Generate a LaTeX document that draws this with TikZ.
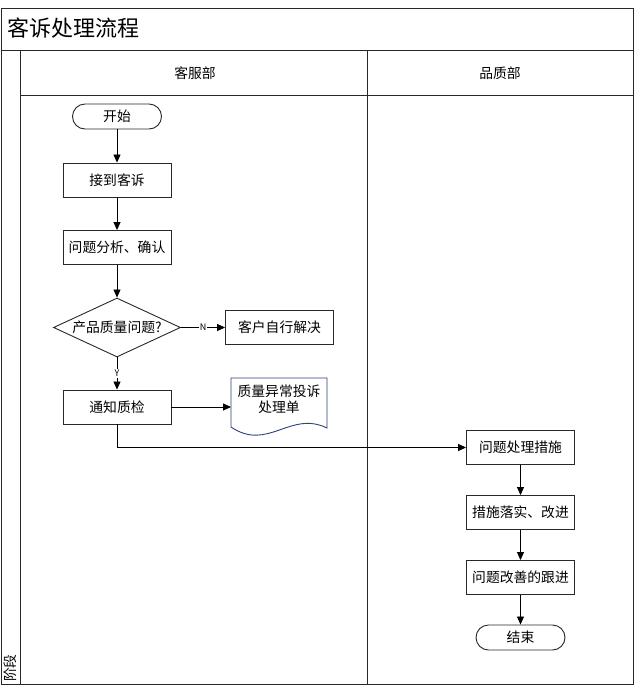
\documentclass[tikz,border=0pt]{standalone}
\usepackage{fontspec}
\setmainfont{Noto Sans CJK SC}
\usetikzlibrary{arrows.meta,shapes.geometric}
\definecolor{frame}{RGB}{40,40,40}
\definecolor{docblue}{RGB}{45,65,125}
\tikzset{
  box/.style={draw=frame,line width=0.9pt,minimum width=108pt,minimum height=34pt,inner sep=1pt,font=\fontsize{13.8}{16}\selectfont,fill=white},
  term/.style={draw=frame,line width=0.9pt,rounded corners=12.5pt,minimum width=89pt,minimum height=25pt,inner sep=1pt,font=\fontsize{13.8}{16}\selectfont,fill=white},
  flow/.style={draw=black,line width=0.8pt,-{Triangle[length=8pt,width=7pt]}},
  lane/.style={draw=frame,line width=0.9pt},
  lbl/.style={font=\fontsize{9}{10}\selectfont,fill=white,inner sep=1pt}
}
\begin{document}
\begin{tikzpicture}[x=1pt,y=-1pt]
\useasboundingbox (0,0) rectangle (642,688);
% frame
\draw[lane] (1,8) rectangle (633,684);
\draw[lane] (1,50) -- (633,50);
\draw[lane] (20,95) -- (633,95);
\draw[lane] (20,50) -- (20,684);
\draw[lane] (367,50) -- (367,684);
\node[anchor=west,font=\fontsize{22}{25}\selectfont,inner sep=0pt] (title) at (7,28) {客诉处理流程};
\node[font=\fontsize{13.8}{16}\selectfont] (kf) at (195,73) {客服部};
\node[font=\fontsize{13.8}{16}\selectfont] (pz) at (500,73) {品质部};
\node[rotate=90,anchor=west,font=\fontsize{13.8}{16}\selectfont,inner sep=0pt] (jd) at (10,682) {阶段};
% nodes
\node[term] (start) at (117,116.5) {开始};
\node[box] (recv) at (117,180) {接到客诉};
\node[box] (ana) at (117,247.5) {问题分析、确认};
\node[diamond,draw=frame,line width=0.9pt,aspect=2.15,minimum width=127pt,minimum height=59pt,inner sep=0pt,font=\fontsize{13.8}{16}\selectfont] (dec) at (117,327.5) {产品质量问题?};
\node[box] (self) at (279.5,327.5) {客户自行解决};
\node[box] (notify) at (117,407) {通知质检};
\draw[docblue,line width=0.9pt,fill=white] (231,378) -- (327,378) -- (327,428) .. controls (290,410) and (268,452) .. (231,427) -- cycle;
\node[font=\fontsize{13.8}{16}\selectfont,align=center] (doc) at (279,399) {质量异常投诉\\处理单};
\coordinate (docw) at (231,407);
\node[box] (meas) at (520.5,447.5) {问题处理措施};
\node[box] (impl) at (520.5,512.5) {措施落实、改进};
\node[box] (follow) at (520.5,577.5) {问题改善的跟进};
\node[term] (end) at (520.5,637.5) {结束};
% connectors
\draw[flow] (start) -- (recv);
\draw[flow] (recv) -- (ana);
\draw[flow] (ana) -- (dec);
\draw[flow] (dec) -- node[lbl] {N} (self);
\draw[flow] (dec) -- node[lbl,pos=0.5] {Y} (notify);
\draw[flow] (notify) -- (docw);
\draw[flow] (notify.south) |- (meas.west);
\draw[flow] (meas) -- (impl);
\draw[flow] (impl) -- (follow);
\draw[flow] (follow) -- (end);
\end{tikzpicture}
\end{document}
